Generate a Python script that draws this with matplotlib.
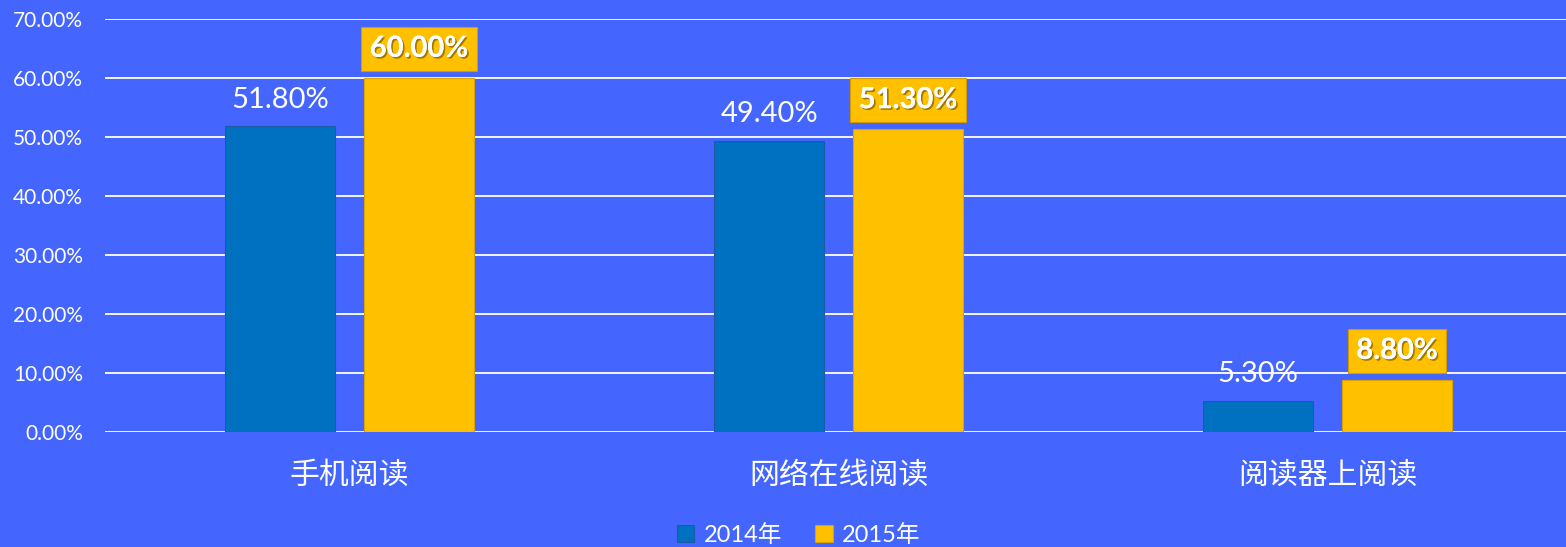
import numpy as np
import matplotlib
matplotlib.use("Agg")
import matplotlib.pyplot as plt
import matplotlib.patheffects as pe
from matplotlib.ticker import FuncFormatter

plt.rcParams['font.family'] = ['Lato', 'Noto Sans CJK SC', 'DejaVu Sans']

categories = ["手机阅读", "网络在线阅读", "阅读器上阅读"]
series_names = ["2014年", "2015年"]
values_2014 = [51.8, 49.4, 5.3]
values_2015 = [60.0, 51.3, 8.8]
y_ticks = [0, 10, 20, 30, 40, 50, 60, 70]

BG = "#4466FF"
BLUE = "#0070C0"
GOLD = "#FFC000"

fig = plt.figure(figsize=(15.66, 5.47), dpi=100, facecolor=BG)
ax = fig.add_axes([105 / 1566, 115 / 547, 1467 / 1566, (432 - 19) / 547])
ax.set_facecolor(BG)

x = np.arange(len(categories))
w = 0.225
off = 0.142
b1 = ax.bar(x - off, values_2014, w, color=BLUE, edgecolor="#1A5AA8", linewidth=0.8,
            label=series_names[0], zorder=3)
b2 = ax.bar(x + off, values_2015, w, color=GOLD, edgecolor="#D9A200", linewidth=0.8,
            label=series_names[1], zorder=3)

ax.set_xlim(-0.5, 2.5)
ax.set_ylim(0, 70)
ax.set_yticks(y_ticks)
ax.yaxis.set_major_formatter(FuncFormatter(lambda v, p: f"{v:.2f}%"))
ax.grid(axis="y", color="white", linewidth=1.3, zorder=0)
for s in ax.spines.values():
    s.set_visible(False)
ax.tick_params(axis="y", length=0, colors="white", labelsize=15, pad=16)
ax.tick_params(axis="x", length=0, colors="white", pad=20)
ax.set_xticks(x)
ax.set_xticklabels(categories, fontsize=21.5, family=['Noto Sans CJK SC', 'DejaVu Sans'])

for xi, v in zip(x, values_2014):
    ax.annotate(f"{v:.2f}%", (xi - off, v), xytext=(0, 19), textcoords="offset points",
                ha="center", va="center", color="white", fontsize=21, zorder=4)

for xi, v in zip(x, values_2015):
    t = ax.annotate(f"{v:.2f}%", (xi + off, v), xytext=(0, 21), textcoords="offset points",
                    ha="center", va="center", color="white", fontsize=21, fontweight="bold",
                    zorder=5,
                    bbox=dict(boxstyle="square,pad=0.3", fc=GOLD, ec="#D09A00", lw=0.8))
    t.set_path_effects([pe.withSimplePatchShadow(offset=(1.2, -1.2), shadow_rgbFace="#7a5a00",
                                                 alpha=0.7), pe.Normal()])

leg = fig.legend(handles=[b1, b2], labels=series_names, loc="center", ncol=2,
                 bbox_to_anchor=(0.51, 12 / 547), frameon=False,
                 handlelength=0.75, handleheight=0.75, handletextpad=0.4, columnspacing=1.4,
                 prop={'family': ['Lato', 'Noto Sans CJK SC'], 'size': 17})
for t in leg.get_texts():
    t.set_color("white")

fig.savefig("out.png", dpi=100, facecolor=BG)
